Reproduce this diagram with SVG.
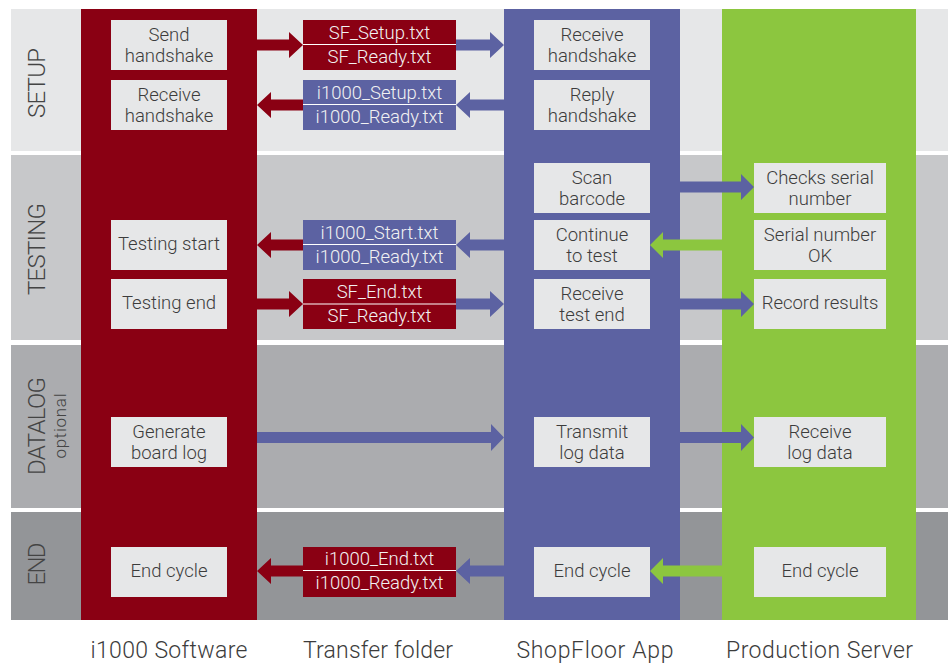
<svg xmlns="http://www.w3.org/2000/svg" width="952" height="663" viewBox="0 0 952 663">
<style>
text{font-family:Roboto,"Liberation Sans",sans-serif;font-weight:300}
.box{fill:#e6e7e8}
.bt{font-size:18.5px;fill:#3c3c3c;text-anchor:middle}
.ft{font-size:18.5px;fill:#f2f2f2;text-anchor:middle}
.red{fill:#8a0013}
.blue{fill:#5c62a2}
.green{fill:#8cc63f}
.sep{stroke:#ffffff;stroke-width:1.2}
.band{font-size:24px;fill:#444;text-anchor:middle}
.col{font-size:23px;fill:#3c3c3c;text-anchor:middle}
</style>
<rect width="952" height="663" fill="#ffffff"/>
<g id="bands">
<rect x="11" y="9" width="937" height="142" fill="#e6e7e8"/>
<rect x="11" y="155" width="937" height="185" fill="#c7c8ca"/>
<rect x="11" y="345" width="937" height="163" fill="#abacaf"/>
<rect x="11" y="512" width="937" height="108" fill="#939598"/>
<text class="band" transform="translate(45,83) rotate(-90)" textLength="70">SETUP</text>
<text class="band" transform="translate(45,249) rotate(-90)" textLength="92">TESTING</text>
<text class="band" transform="translate(45,426) rotate(-90)" textLength="98">DATALOG</text>
<text class="band" style="font-size:17px" transform="translate(66,426) rotate(-90)" textLength="65">optional</text>
<text class="band" transform="translate(45,564) rotate(-90)" textLength="43">END</text>
</g>
<g id="columns">
<rect class="red" x="81" y="9" width="176" height="611"/>
<rect class="blue" x="504" y="9" width="176" height="611"/>
<rect class="green" x="722" y="9" width="194" height="611"/>
<text class="col" x="169" y="658" textLength="157">i1000 Software</text>
<text class="col" x="378" y="658" textLength="150">Transfer folder</text>
<text class="col" x="595" y="658" textLength="157">ShopFloor App</text>
<text class="col" x="819.5" y="658" textLength="187">Production Server</text>
</g>
<g id="connectors">
<path class="red" d="M257 39.5H289V32L303 45L289 58V50.5H257Z"/>
<path class="blue" d="M456 39.5H490V32L504 45L490 58V50.5H456Z"/>
<path class="blue" d="M504 99.5H470V92L456 105L470 118V110.5H504Z"/>
<path class="red" d="M303 99.5H271V92L257 105L271 118V110.5H303Z"/>
<path class="blue" d="M680 181.5H741V174L754 187L741 200V192.5H680Z"/>
<path class="green" d="M722 239.5H663V232L650 245L663 258V250.5H722Z"/>
<path class="blue" d="M504 239.5H470V232L456 245L470 258V250.5H504Z"/>
<path class="red" d="M303 239.5H271V232L257 245L271 258V250.5H303Z"/>
<path class="red" d="M257 298.5H289V291L303 304L289 317V309.5H257Z"/>
<path class="blue" d="M456 298.5H490V291L504 304L490 317V309.5H456Z"/>
<path class="blue" d="M680 298.5H741V291L754 304L741 317V309.5H680Z"/>
<path class="blue" d="M257 432H491V424L504 437.5L491 451V443H257Z"/>
<path class="blue" d="M680 432H741V424L754 437.5L741 451V443H680Z"/>
<path class="red" d="M303 565.5H271V558L257 571L271 584V576.5H303Z"/>
<path class="blue" d="M504 565.5H470V558L456 571L470 584V576.5H504Z"/>
<path class="green" d="M722 565.5H663V558L650 571L663 584V576.5H722Z"/>
</g>
<g id="n-send"><rect class="box" x="111" y="20" width="116" height="50"/><text class="bt" x="169" y="41">Send</text><text class="bt" x="169" y="62">handshake</text></g>
<g id="n-recv1"><rect class="box" x="111" y="80" width="116" height="50"/><text class="bt" x="169" y="101">Receive</text><text class="bt" x="169" y="122">handshake</text></g>
<g id="n-teststart"><rect class="box" x="111" y="220" width="116" height="50"/><text class="bt" x="169" y="249.5">Testing start</text></g>
<g id="n-testend"><rect class="box" x="111" y="279" width="116" height="50"/><text class="bt" x="169" y="308.5">Testing end</text></g>
<g id="n-genlog"><rect class="box" x="111" y="417" width="116" height="50"/><text class="bt" x="169" y="438">Generate</text><text class="bt" x="169" y="459">board log</text></g>
<g id="n-endcycle1"><rect class="box" x="111" y="547" width="116" height="50"/><text class="bt" x="169" y="576.5">End cycle</text></g>

<g id="f-setup1"><rect class="red" x="303" y="20" width="153" height="50"/><line class="sep" x1="303" y1="44.5" x2="456" y2="44.5"/><text class="ft" x="379.5" y="38.5">SF_Setup.txt</text><text class="ft" x="379.5" y="62.5">SF_Ready.txt</text></g>
<g id="f-setup2"><rect class="blue" x="303" y="80" width="153" height="50"/><line class="sep" x1="303" y1="104.5" x2="456" y2="104.5"/><text class="ft" x="379.5" y="98.5">i1000_Setup.txt</text><text class="ft" x="379.5" y="122.5">i1000_Ready.txt</text></g>
<g id="f-start"><rect class="blue" x="303" y="220" width="153" height="50"/><line class="sep" x1="303" y1="244.5" x2="456" y2="244.5"/><text class="ft" x="379.5" y="238.5">i1000_Start.txt</text><text class="ft" x="379.5" y="262.5">i1000_Ready.txt</text></g>
<g id="f-end1"><rect class="red" x="303" y="279" width="153" height="50"/><line class="sep" x1="303" y1="304" x2="456" y2="304"/><text class="ft" x="379.5" y="297.5">SF_End.txt</text><text class="ft" x="379.5" y="321.5">SF_Ready.txt</text></g>
<g id="f-end2"><rect class="red" x="303" y="547" width="153" height="50"/><line class="sep" x1="303" y1="570.5" x2="456" y2="570.5"/><text class="ft" x="379.5" y="565">i1000_End.txt</text><text class="ft" x="379.5" y="589">i1000_Ready.txt</text></g>

<g id="n-recv2"><rect class="box" x="534" y="20" width="116" height="50"/><text class="bt" x="592" y="41">Receive</text><text class="bt" x="592" y="62">handshake</text></g>
<g id="n-reply"><rect class="box" x="534" y="80" width="116" height="50"/><text class="bt" x="592" y="101">Reply</text><text class="bt" x="592" y="122">handshake</text></g>
<g id="n-scan"><rect class="box" x="534" y="163" width="116" height="50"/><text class="bt" x="592" y="184">Scan</text><text class="bt" x="592" y="205">barcode</text></g>
<g id="n-continue"><rect class="box" x="534" y="220" width="116" height="50"/><text class="bt" x="592" y="241">Continue</text><text class="bt" x="592" y="262">to test</text></g>
<g id="n-recvend"><rect class="box" x="534" y="279" width="116" height="50"/><text class="bt" x="592" y="300">Receive</text><text class="bt" x="592" y="321">test end</text></g>
<g id="n-transmit"><rect class="box" x="534" y="417" width="116" height="50"/><text class="bt" x="592" y="438">Transmit</text><text class="bt" x="592" y="459">log data</text></g>
<g id="n-endcycle2"><rect class="box" x="534" y="547" width="116" height="50"/><text class="bt" x="592" y="576.5">End cycle</text></g>

<g id="n-checks"><rect class="box" x="754" y="163" width="132" height="50"/><text class="bt" x="820" y="184">Checks serial</text><text class="bt" x="820" y="205">number</text></g>
<g id="n-serialok"><rect class="box" x="754" y="220" width="132" height="50"/><text class="bt" x="820" y="241">Serial number</text><text class="bt" x="820" y="262">OK</text></g>
<g id="n-record"><rect class="box" x="754" y="279" width="132" height="50"/><text class="bt" x="820" y="308.5">Record results</text></g>
<g id="n-recvlog"><rect class="box" x="754" y="417" width="132" height="50"/><text class="bt" x="820" y="438">Receive</text><text class="bt" x="820" y="459">log data</text></g>
<g id="n-endcycle3"><rect class="box" x="754" y="547" width="132" height="50"/><text class="bt" x="820" y="576.5">End cycle</text></g>
</svg>
